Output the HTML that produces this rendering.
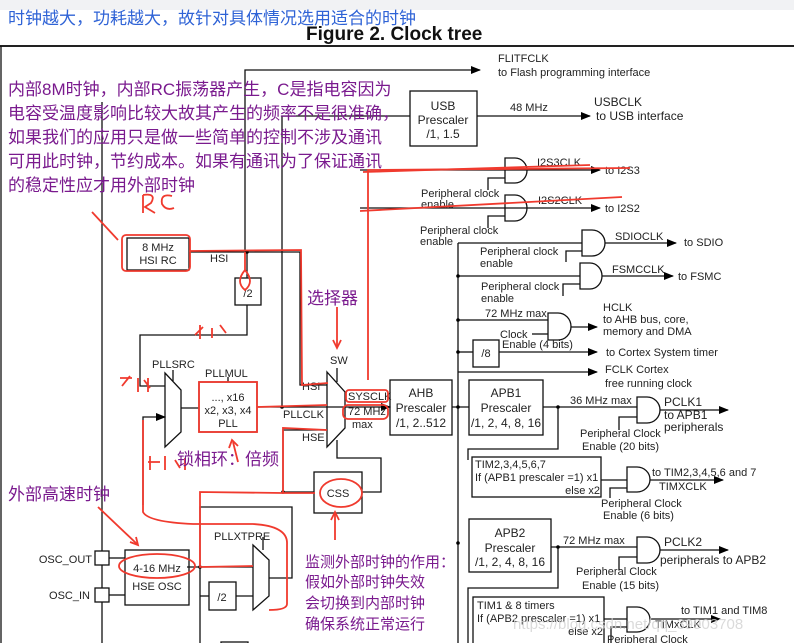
<!DOCTYPE html>
<html><head><meta charset="utf-8"><style>
body{margin:0;background:#fff;}
svg{display:block;font-family:"Liberation Sans",Arial,sans-serif;}
.cn{font-family:"Liberation Sans","Noto Sans CJK SC",sans-serif;}
</style></head><body>
<svg width="794" height="643" viewBox="0 0 794 643" xmlns="http://www.w3.org/2000/svg">
<defs>
<marker id="a" markerWidth="10" markerHeight="8" refX="9" refY="4" orient="auto" markerUnits="userSpaceOnUse"><path d="M0,0L10,4L0,8z" fill="#000"/></marker>
</defs>
<rect x="0" y="0" width="794" height="10" fill="#f1f2f4"/>
<text x="8" y="24" class="cn" font-size="17" fill="#2f63d6">时钟越大，功耗越大，故针对具体情况选用适合的时钟</text>
<text x="306" y="40" font-size="19" font-weight="bold" fill="#111">Figure 2. Clock tree</text>
<line x1="0" y1="46" x2="794" y2="46" stroke="#222" stroke-width="2"/>
<g stroke="#111" stroke-width="1.3" fill="none">
<line x1="1" y1="46" x2="1" y2="643"/>
<line x1="102" y1="102" x2="102" y2="643"/>
<polyline points="245,250 245,70 480,70" marker-end="url(#a)"/>
<polyline points="282,407 282,116 410,116"/>
<rect x="410" y="91" width="67" height="55"/>
<line x1="477" y1="116" x2="590" y2="116" marker-end="url(#a)"/>
<line x1="360" y1="170" x2="600" y2="170" marker-end="url(#a)"/>
<path d="M505,158h10a12,12.5 0 0 1 0,25h-10z"/>
<polyline points="488,190 488,178 505,178"/>
<line x1="360" y1="208" x2="600" y2="208" marker-end="url(#a)"/>
<path d="M505,195h10a12,13 0 0 1 0,26h-10z"/>
<polyline points="488,228 488,216 505,216"/>
<line x1="458" y1="243" x2="458" y2="643"/>
<line x1="458" y1="243" x2="582" y2="243"/>
<path d="M582,230h10a13,13 0 0 1 0,26h-10z"/>
<line x1="605" y1="243" x2="676" y2="243" marker-end="url(#a)"/>
<polyline points="566,262 566,251 582,251"/>
<line x1="458" y1="276" x2="580" y2="276"/>
<path d="M580,263h10a12,13 0 0 1 0,26h-10z"/>
<line x1="602" y1="276" x2="673" y2="276" marker-end="url(#a)"/>
<polyline points="563,296 563,284 580,284"/>
<line x1="458" y1="320" x2="548" y2="320"/>
<path d="M548,313h10a13,13.5 0 0 1 0,27h-10z"/>
<line x1="571" y1="327" x2="597" y2="327" marker-end="url(#a)"/>
<line x1="532" y1="334" x2="548" y2="334"/>
<line x1="458" y1="352" x2="473" y2="352"/>
<rect x="473" y="340" width="26" height="27"/>
<line x1="499" y1="352" x2="597" y2="352" marker-end="url(#a)"/>
<line x1="458" y1="372" x2="597" y2="372" marker-end="url(#a)"/>
<rect x="390" y="380" width="62" height="55"/>
<line x1="452" y1="407" x2="469" y2="407"/>
<rect x="469" y="380" width="74" height="55"/>
<line x1="543" y1="407" x2="637" y2="407"/>
<path d="M637,397h10a13,13 0 0 1 0,26h-10z"/>
<line x1="660" y1="410" x2="728" y2="410" marker-end="url(#a)"/>
<polyline points="619,430 619,417 637,417"/>
<polyline points="558,407 558,449 468,449 468,460"/>
<rect x="472" y="457" width="129" height="40"/>
<line x1="601" y1="480" x2="627" y2="480"/>
<path d="M627,467h10a13,12.5 0 0 1 0,25h-10z"/>
<line x1="650" y1="480" x2="723" y2="480" marker-end="url(#a)"/>
<polyline points="610,498 610,488 627,488"/>
<rect x="469" y="519" width="82" height="53"/>
<line x1="551" y1="547" x2="637" y2="547"/>
<path d="M637,537h10a13,13 0 0 1 0,26h-10z"/>
<line x1="660" y1="550" x2="728" y2="550" marker-end="url(#a)"/>
<polyline points="619,570 619,557 637,557"/>
<polyline points="558,547 558,588 468,588 468,643"/>
<rect x="473" y="597" width="131" height="50"/>
<line x1="604" y1="619" x2="627" y2="619"/>
<path d="M627,607h10a13,12.5 0 0 1 0,25h-10z"/>
<line x1="650" y1="619" x2="720" y2="619" marker-end="url(#a)"/>
<polyline points="611,643 611,627 627,627"/>
<rect x="127" y="238" width="62" height="32"/>
<polyline points="189,252 300,252 300,385 327,385"/>
<line x1="247" y1="252" x2="247" y2="278"/>
<rect x="235" y="278" width="26" height="27"/>
<polyline points="247,305 247,335 140,335 140,386 165,386"/>
<path d="M165,373L181,390L181,432L165,447Z"/>
<line x1="173" y1="381" x2="173" y2="370"/>
<polyline points="143,505 143,417 165,417" marker-end="url(#a)"/>
<line x1="181" y1="408" x2="199" y2="408"/>
<rect x="199" y="382" width="58" height="50"/>
<line x1="228" y1="382" x2="228" y2="377"/>
<line x1="257" y1="407" x2="390" y2="407" marker-end="url(#a)"/>
<path d="M327,372L345,392L345,428L327,447Z"/>
<line x1="337" y1="368" x2="337" y2="382"/>
<polyline points="327,430 283,430 283,492 314,492"/>
<rect x="314" y="472" width="48" height="41"/>
<polyline points="362,492 381,492 381,458 337,458 337,440"/>
<polyline points="200,643 200,507 292,507 292,578 269,578"/>
<line x1="187" y1="567" x2="253" y2="567"/>
<path d="M253,545L269,560L269,596L253,610Z"/>
<line x1="263" y1="550" x2="263" y2="537"/>
<line x1="200" y1="596" x2="209" y2="596"/>
<rect x="209" y="582" width="27" height="28"/>
<line x1="236" y1="596" x2="253" y2="596"/>
<rect x="125" y="550" width="64" height="55"/>
<rect x="95" y="551" width="14" height="14" fill="#fff"/>
<rect x="95" y="588" width="14" height="14" fill="#fff"/>
<line x1="109" y1="558" x2="125" y2="558"/>
<line x1="109" y1="595" x2="125" y2="595"/>
<rect x="221" y="642" width="27" height="6"/>
</g>
<g fill="#000">
<circle cx="458" cy="276" r="1.8"/><circle cx="458" cy="320" r="1.8"/><circle cx="458" cy="352" r="1.8"/><circle cx="458" cy="407" r="1.8"/><circle cx="458" cy="543" r="1.8"/><circle cx="558" cy="407" r="1.8"/><circle cx="558" cy="547" r="1.8"/><circle cx="247" cy="252" r="1.8"/><circle cx="282" cy="407" r="1.8"/><circle cx="283" cy="492" r="1.8"/><circle cx="200" cy="567" r="1.8"/>
</g>
<g font-size="11" fill="#222">
<text x="498" y="62">FLITFCLK</text><text x="498" y="76">to Flash programming interface</text>
<text x="443" y="110" text-anchor="middle" font-size="12">USB</text><text x="443" y="124" text-anchor="middle" font-size="12">Prescaler</text><text x="443" y="138" text-anchor="middle" font-size="12">/1, 1.5</text>
<text x="510" y="111">48 MHz</text>
<text x="594" y="106" font-size="12">USBCLK</text><text x="596" y="120" font-size="12">to USB interface</text>
<text x="537" y="166">I2S3CLK</text><text x="605" y="174">to I2S3</text>
<text x="421" y="197">Peripheral clock</text><text x="421" y="208">enable</text>
<text x="538" y="204">I2S2CLK</text><text x="605" y="212">to I2S2</text>
<text x="420" y="234">Peripheral clock</text><text x="420" y="245">enable</text>
<text x="615" y="240">SDIOCLK</text><text x="684" y="246">to SDIO</text>
<text x="480" y="255">Peripheral clock</text><text x="480" y="267">enable</text>
<text x="612" y="273">FSMCCLK</text><text x="678" y="280">to FSMC</text>
<text x="481" y="290">Peripheral clock</text><text x="481" y="302">enable</text>
<text x="485" y="317">72 MHz max</text>
<text x="603" y="311">HCLK</text><text x="603" y="323">to AHB bus, core,</text><text x="603" y="335">memory and DMA</text>
<text x="500" y="338">Clock</text><text x="502" y="348">Enable (4 bits)</text>
<text x="486" y="357" text-anchor="middle">/8</text>
<text x="606" y="356">to Cortex System timer</text>
<text x="605" y="373">FCLK Cortex</text><text x="605" y="387">free running clock</text>
<text x="421" y="397" text-anchor="middle" font-size="12">AHB</text><text x="421" y="412" text-anchor="middle" font-size="12">Prescaler</text><text x="421" y="427" text-anchor="middle" font-size="12">/1, 2..512</text>
<text x="506" y="397" text-anchor="middle" font-size="12">APB1</text><text x="506" y="412" text-anchor="middle" font-size="12">Prescaler</text><text x="506" y="427" text-anchor="middle" font-size="12">/1, 2, 4, 8, 16</text>
<text x="570" y="404">36 MHz max</text>
<text x="664" y="406" font-size="12">PCLK1</text><text x="664" y="419" font-size="12">to APB1</text><text x="664" y="431" font-size="12">peripherals</text>
<text x="580" y="437">Peripheral Clock</text><text x="582" y="450">Enable (20 bits)</text>
<text x="475" y="468">TIM2,3,4,5,6,7</text><text x="475" y="481">If (APB1 prescaler =1) x1</text><text x="600" y="494" text-anchor="end">else  x2</text>
<text x="652" y="476">to TIM2,3,4,5,6 and 7</text><text x="659" y="490">TIMXCLK</text>
<text x="601" y="507">Peripheral Clock</text><text x="603" y="519">Enable (6 bits)</text>
<text x="510" y="537" text-anchor="middle" font-size="12">APB2</text><text x="510" y="552" text-anchor="middle" font-size="12">Prescaler</text><text x="510" y="566" text-anchor="middle" font-size="12">/1, 2, 4, 8, 16</text>
<text x="563" y="544">72 MHz max</text>
<text x="664" y="546" font-size="12">PCLK2</text><text x="660" y="564" font-size="12">peripherals to APB2</text>
<text x="576" y="575">Peripheral Clock</text><text x="582" y="589">Enable (15 bits)</text>
<text x="477" y="609">TIM1 &amp; 8 timers</text><text x="477" y="622">If (APB2 prescaler =1) x1</text><text x="603" y="635" text-anchor="end">else x2</text>
<text x="681" y="614">to TIM1 and TIM8</text><text x="655" y="628">TIMxCLK</text>
<text x="607" y="643">Peripheral Clock</text>
<text x="158" y="251" text-anchor="middle">8 MHz</text><text x="158" y="264" text-anchor="middle">HSI RC</text>
<text x="210" y="262">HSI</text>
<text x="248" y="297" text-anchor="middle">/2</text>
<text x="152" y="368">PLLSRC</text><text x="205" y="377">PLLMUL</text>
<text x="228" y="401" text-anchor="middle">..., x16</text><text x="228" y="414" text-anchor="middle">x2, x3, x4</text><text x="228" y="427" text-anchor="middle">PLL</text>
<text x="330" y="364">SW</text><text x="302" y="390">HSI</text><text x="283" y="418">PLLCLK</text><text x="302" y="441">HSE</text>
<text x="348" y="400">SYSCLK</text><text x="348" y="415">72 MHz</text><text x="352" y="428">max</text>
<text x="338" y="497" text-anchor="middle">CSS</text>
<text x="214" y="540">PLLXTPRE</text>
<text x="157" y="572" text-anchor="middle">4-16 MHz</text><text x="157" y="590" text-anchor="middle">HSE OSC</text>
<text x="222" y="601" text-anchor="middle">/2</text>
<text x="92" y="563" text-anchor="end">OSC_OUT</text><text x="90" y="599" text-anchor="end">OSC_IN</text>
</g>
<g stroke="#f03a2e" stroke-width="1.8" fill="none">
<rect x="122" y="235" width="68" height="36" rx="4"/>
<line x1="92" y1="212" x2="118" y2="240"/>
<path d="M143,195v18M143,195q14,-2 8,8l-6,4l10,6M172,196q-12,-3-10,8q4,7 12,4"/>
<polyline points="189,251 301,250 302,385 328,383"/>
<path d="M245,252v18q-10,12 0,20q10,-8 0,-20"/>
<line x1="363" y1="172" x2="590" y2="165"/>
<line x1="360" y1="211" x2="622" y2="197"/>
<polyline points="368,380 368,170 630,168"/>
<rect x="199" y="382" width="58" height="50"/>
<polyline points="257,407 327,405"/>
<rect x="346" y="390" width="42" height="12" rx="3"/>
<rect x="343" y="405" width="45" height="14" rx="5"/>
<polyline points="327,430 283,428 283,493 315,493"/>
<polyline points="283,493 200,492 200,567 253,566"/>
<path d="M143,420v92q5,10 50,12h60q35,2 34,20v60q0,6-18,6"/>
<line x1="337" y1="307" x2="337" y2="346"/><path d="M333,340l4,8l4,-8"/>
<line x1="238" y1="462" x2="233" y2="442"/><path d="M229,448l3,-8l6,6"/>
<line x1="98" y1="507" x2="137" y2="544"/><path d="M130,542l8,3l-2,-8"/>
<ellipse cx="341" cy="493" rx="21" ry="14"/>
<line x1="335" y1="540" x2="335" y2="513"/><path d="M331,520l4,-8l4,8"/>
<ellipse cx="157" cy="566" rx="38" ry="12"/>
<path d="M120,378h12M122,386l8,-10M138,378v14M148,378v14M144,380l6,8"/>
<path d="M150,470v-14M160,462h-12M165,456v14M175,460l5,8M185,458v12"/>
<path d="M195,335l8,-8M200,325v14M212,328v10M220,325l6,8"/>
</g>
<g class="cn" fill="#7a1a8e" font-size="17">
<text x="8" y="95">内部8M时钟，内部RC振荡器产生，C是指电容因为</text>
<text x="8" y="119">电容受温度影响比较大故其产生的频率不是很准确，</text>
<text x="8" y="143">如果我们的应用只是做一些简单的控制不涉及通讯</text>
<text x="8" y="167">可用此时钟，节约成本。如果有通讯为了保证通讯</text>
<text x="8" y="191">的稳定性应才用外部时钟</text>
<text x="307" y="304">选择器</text>
<text x="177" y="465">锁相环：倍频</text>
<text x="8" y="500">外部高速时钟</text>
<g font-size="15"><text x="305" y="567">监测外部时钟的作用：</text><text x="305" y="587">假如外部时钟失效</text><text x="305" y="608">会切换到内部时钟</text><text x="305" y="629">确保系统正常运行</text></g>
</g>
<text x="513" y="629" font-size="15" fill="#d2d2d2" opacity="0.8">https://blog.csdn.net/qq_39903708</text>
</svg>
</body></html>
